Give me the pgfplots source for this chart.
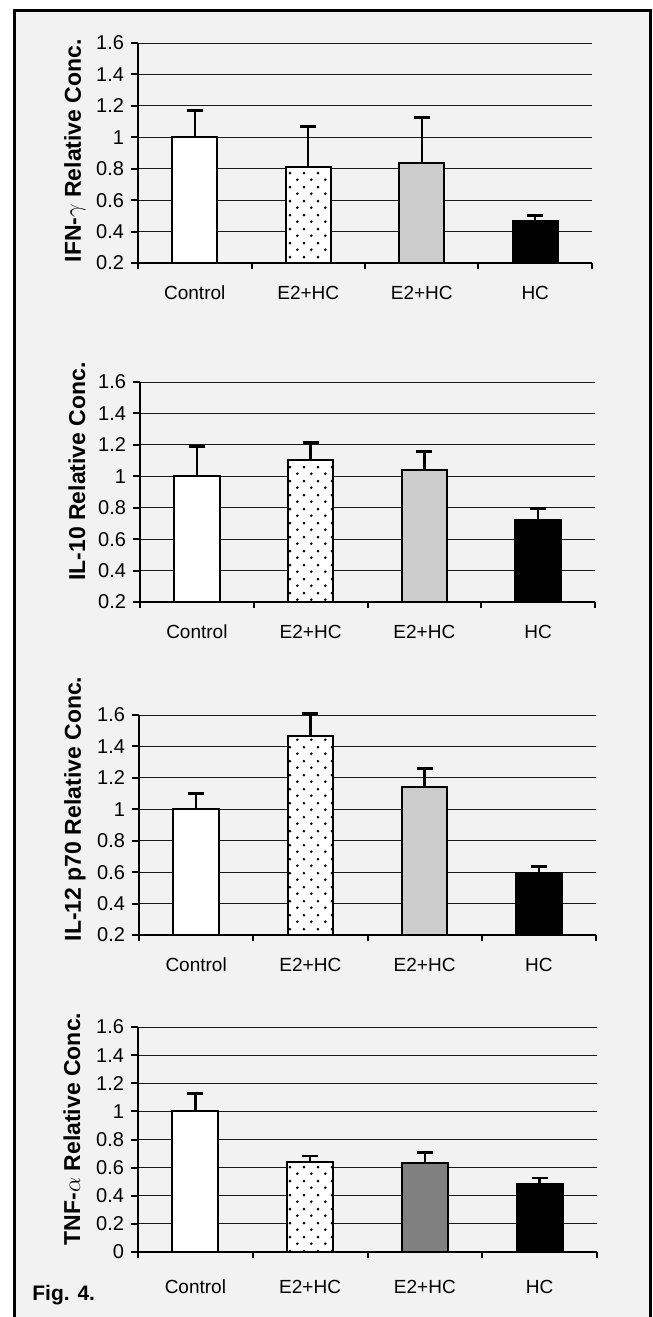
\documentclass[border=0pt]{standalone}
\usepackage{fontspec}
\setmainfont{Liberation Sans}
\usepackage{pgfplots}
\pgfplotsset{compat=1.18}
\usetikzlibrary{patterns.meta}
\definecolor{bg}{HTML}{F2F2F2}
\definecolor{lgray}{HTML}{CCCCCC}
\definecolor{dgray}{HTML}{808080}

\tikzdeclarepattern{
  name=bardots,
  type=colored,
  bottom left={(0pt,0pt)},
  top right={(7pt,7pt)},
  tile size={(7pt,7pt)},
  code={
    \fill[black] (1.75pt,1.75pt) circle[radius=0.75pt];
    \fill[black] (5.25pt,5.25pt) circle[radius=0.75pt];
  }
}

\pgfplotsset{
  panelA/.style={
    scale only axis, anchor=south west,
    xmin=-0.5, xmax=3.5, ymax=1.6,
    axis x line*=bottom, axis y line*=left,
    axis line style={draw=none},
    ybar, bar width=0.4, bar shift=0pt,
    xtick={0,1,2,3}, xticklabels={Control,E2+HC,E2+HC,HC},
    minor xtick={-0.5,0.5,1.5,2.5,3.5},
    major x tick style={draw=none},
    tick align=outside,
    major tick length=3.5pt, minor tick length=3pt,
    tick style={line width=1pt, black},
    ymajorgrids, major grid style={line width=0.5pt, black!90},
    yticklabel style={font=\fontsize{10}{12}\selectfont, text=black},
    xticklabel style={font=\fontsize{9.5}{11}\selectfont, text=black, anchor=north, yshift=-4.5pt},
    ylabel style={font=\fontsize{11.5}{13}\selectfont\bfseries, anchor=center},
  },
  panelB/.style={
    scale only axis, anchor=south west,
    xmin=-0.5, xmax=3.5, ymax=1.6,
    axis x line*=bottom, axis y line*=left,
    axis line style={line width=1.4pt, black, -},
    xtick=\empty, ytick=\empty, clip=false,
  },
  errb/.style={draw=none, mark=none,
    error bars/.cd, y dir=plus, y explicit,
    error bar style={draw=black, line width=1.2pt},
    error mark options={draw=black, line width=1.4pt, mark size=4pt, rotate=90}},
  barW/.style={fill=white, draw=black, line width=1pt},
  barD/.style={fill=white, draw=black, line width=1pt, postaction={pattern=bardots}},
  barL/.style={fill=lgray, draw=black, line width=1pt},
  barG/.style={fill=dgray, draw=black, line width=1pt},
  barK/.style={fill=black, draw=black, line width=1pt},
}

\begin{document}
\begin{tikzpicture}
\path[use as bounding box] (0,0) rectangle (326.5pt,-658.5pt);
\clip (0,0) rectangle (326.5pt,-658.5pt);
\fill[white] (0,0) rectangle (326.5pt,-658.5pt);
\draw[line width=1.65pt, fill=bg] (7.15pt,-5.4pt) rectangle (325.15pt,-665pt);

% ---------- Panel 1: IFN-gamma ----------
\begin{axis}[panelA, at={(69pt,-131.5pt)}, width=227pt, height=110pt,
  ymin=0.2, ytick={0.2,0.4,0.6,0.8,1,1.2,1.4,1.6},
  yticklabels={0.2,0.4,0.6,0.8,1,1.2,1.4,1.6},
  ylabel={IFN-$\gamma$ Relative Conc.},
  ylabel style={at={(axis description cs:-0.139,0.51)}}]
\addplot[barW] coordinates {(0,1.00)};
\addplot[barD] coordinates {(1,0.813)};
\addplot[barL] coordinates {(2,0.835)};
\addplot[barK] coordinates {(3,0.465)};
\end{axis}
\begin{axis}[panelB, at={(69pt,-131.5pt)}, width=227pt, height=110pt, ymin=0.2]
\addplot[errb] coordinates {(0,1.00) +- (0,0.17) (1,0.813) +- (0,0.257) (2,0.835) +- (0,0.292) (3,0.465) +- (0,0.035)};
\end{axis}

% ---------- Panel 2: IL-10 ----------
\begin{axis}[panelA, at={(70pt,-301pt)}, width=227.5pt, height=110pt,
  ymin=0.2, ytick={0.2,0.4,0.6,0.8,1,1.2,1.4,1.6},
  yticklabels={0.2,0.4,0.6,0.8,1,1.2,1.4,1.6},
  ylabel={IL-10 Relative Conc.},
  ylabel style={at={(axis description cs:-0.1385,0.593)}}]
\addplot[barW] coordinates {(0,1.00)};
\addplot[barD] coordinates {(1,1.105)};
\addplot[barL] coordinates {(2,1.04)};
\addplot[barK] coordinates {(3,0.72)};
\end{axis}
\begin{axis}[panelB, at={(70pt,-301pt)}, width=227.5pt, height=110pt, ymin=0.2]
\addplot[errb] coordinates {(0,1.00) +- (0,0.19) (1,1.105) +- (0,0.11) (2,1.04) +- (0,0.116) (3,0.72) +- (0,0.074)};
\end{axis}

% ---------- Panel 3: IL-12 p70 ----------
\begin{axis}[panelA, at={(69.5pt,-467.5pt)}, width=228.5pt, height=110pt,
  ymin=0.2, ytick={0.2,0.4,0.6,0.8,1,1.2,1.4,1.6},
  yticklabels={0.2,0.4,0.6,0.8,1,1.2,1.4,1.6},
  ylabel={IL-12 p70 Relative Conc.},
  ylabel style={at={(axis description cs:-0.140,0.573)}}]
\addplot[barW] coordinates {(0,1.00)};
\addplot[barD] coordinates {(1,1.465)};
\addplot[barL] coordinates {(2,1.14)};
\addplot[barK] coordinates {(3,0.597)};
\end{axis}
\begin{axis}[panelB, at={(69.5pt,-467.5pt)}, width=228.5pt, height=110pt, ymin=0.2]
\addplot[errb] coordinates {(0,1.00) +- (0,0.103) (1,1.465) +- (0,0.147) (2,1.14) +- (0,0.12) (3,0.597) +- (0,0.04)};
\end{axis}

% ---------- Panel 4: TNF-alpha ----------
\begin{axis}[panelA, at={(69pt,-626pt)}, width=229.5pt, height=112.5pt,
  ymin=0, ytick={0,0.2,0.4,0.6,0.8,1,1.2,1.4,1.6},
  yticklabels={0,0.2,0.4,0.6,0.8,1,1.2,1.4,1.6},
  xticklabel style={anchor=north, yshift=-2.5pt},
  ylabel={TNF-$\alpha$ Relative Conc.},
  ylabel style={at={(axis description cs:-0.144,0.547)}}]
\addplot[barW] coordinates {(0,1.00)};
\addplot[barD] coordinates {(1,0.638)};
\addplot[barG] coordinates {(2,0.633)};
\addplot[barK] coordinates {(3,0.486)};
\end{axis}
\begin{axis}[panelB, at={(69pt,-626pt)}, width=229.5pt, height=112.5pt, ymin=0]
\addplot[errb] coordinates {(0,1.00) +- (0,0.126) (1,0.638) +- (0,0.045) (2,0.633) +- (0,0.072) (3,0.486) +- (0,0.04)};
\end{axis}

\node[anchor=base west, font=\fontsize{10.5}{12}\selectfont\bfseries, inner sep=0pt] at (16pt,-650pt) {Fig. 4.};
\end{tikzpicture}
\end{document}
